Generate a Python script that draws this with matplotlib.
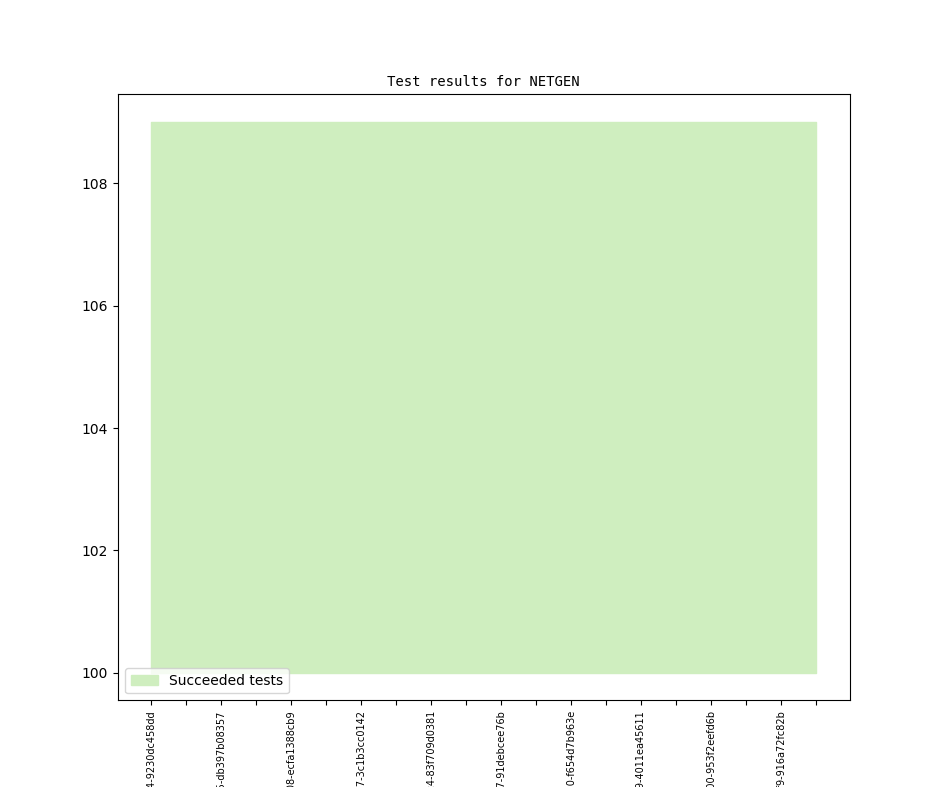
import matplotlib
matplotlib.use("Agg")
import matplotlib.pyplot as plt

x_pos = list(range(20))
succeeded_low = [100] * 20
succeeded_high = [109] * 20
tick_labels = [
    "3f1a7c2e-5b8d-4c61-a2f4-9230dc458dd", "",
    "8e2b4d91-c3a7-4f05-b6e5-db397b08357", "",
    "a17c9e53-2d6f-48b1-9e08-ecfa1388cb9", "",
    "c94e1a28-7f3b-4d2c-8a57-3c1b3cc0142", "",
    "5d0b8f36-e1c4-4a97-b0c4-83f709d0381", "",
    "e6a3c7b1-4d8e-42f9-a1c7-91debcee76b", "",
    "2b7d5e94-a6f1-4c38-9d20-f654d7b963e", "",
    "f48c1d7a-3e9b-4b56-8c39-4011ea45611", "",
    "71e9a4c5-b2d8-4f63-a300-953f2eefd6b", "",
    "9c5f2b18-d7a3-4e04-b8f9-916a72fc82b", "",
]

fig, ax = plt.subplots(figsize=(9.44, 7.87), dpi=100)
ax.fill_between(x_pos, succeeded_low, succeeded_high, facecolor="#cfeebf",
                edgecolor="#cfeebf", linewidth=1.0, label="Succeeded tests")
ax.set_xticks(x_pos)
ax.set_xticklabels(tick_labels, rotation=90, fontsize=7)
ax.set_title("Test results for NETGEN", family="DejaVu Sans Mono", fontsize=10)
ax.legend(loc="lower left")
fig.savefig("out.png", dpi=100)
